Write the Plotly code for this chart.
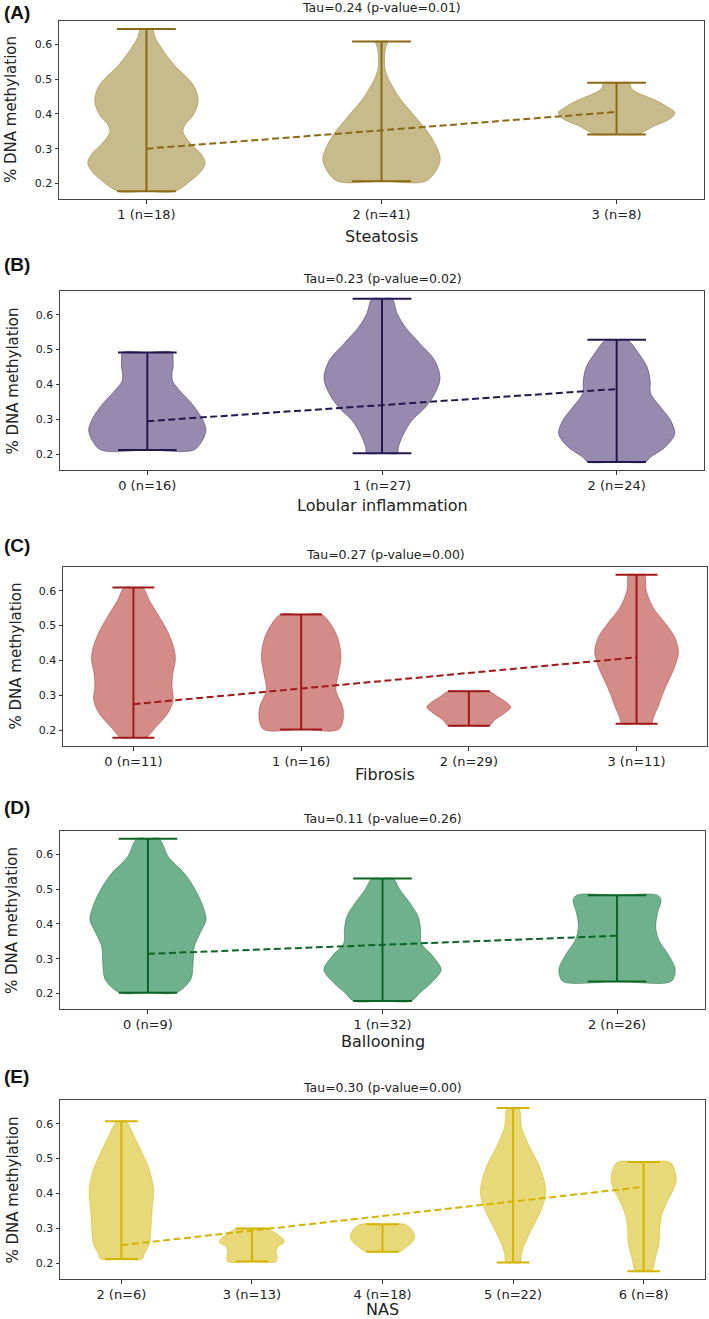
import plotly.graph_objects as go

# ---------------- data ----------------
# Panel A: Steatosis
steatosis_labels = ["1 (n=18)", "2 (n=41)", "3 (n=8)"]
steatosis_levels = [
    [0.177, 0.211, 0.235, 0.259, 0.285, 0.307, 0.330, 0.350, 0.370, 0.393, 0.420, 0.441, 0.470, 0.498, 0.536, 0.584, 0.620, 0.645],
    [0.206, 0.240, 0.270, 0.300, 0.345, 0.393, 0.441, 0.470, 0.500, 0.530, 0.560, 0.590, 0.609],
    [0.341, 0.350, 0.364, 0.383, 0.395, 0.405, 0.421, 0.435, 0.450, 0.462, 0.475, 0.490],
]
steatosis_density = [
    [0.48, 0.78, 0.93, 1.00, 0.93, 0.80, 0.68, 0.62, 0.66, 0.78, 0.86, 0.88, 0.84, 0.73, 0.50, 0.28, 0.15, 0.10],
    [0.75, 0.94, 1.00, 0.95, 0.80, 0.57, 0.33, 0.22, 0.12, 0.06, 0.05, 0.07, 0.10],
    [0.37, 0.48, 0.62, 0.88, 0.97, 0.99, 0.86, 0.72, 0.52, 0.35, 0.25, 0.22],
]
steatosis_trend = [0.300, 0.406]

# Panel B: Lobular inflammation
lobular_labels = ["0 (n=16)", "1 (n=27)", "2 (n=24)"]
lobular_levels = [
    [0.212, 0.240, 0.268, 0.285, 0.307, 0.320, 0.345, 0.370, 0.393, 0.410, 0.430, 0.450, 0.470, 0.492],
    [0.203, 0.221, 0.259, 0.297, 0.335, 0.374, 0.417, 0.469, 0.517, 0.564, 0.603, 0.646],
    [0.178, 0.192, 0.221, 0.259, 0.297, 0.335, 0.374, 0.412, 0.450, 0.488, 0.528],
]
lobular_density = [
    [0.79, 0.94, 1.00, 0.98, 0.92, 0.87, 0.76, 0.62, 0.50, 0.43, 0.42, 0.44, 0.44, 0.42],
    [0.26, 0.28, 0.37, 0.51, 0.74, 0.90, 0.99, 0.90, 0.65, 0.40, 0.26, 0.17],
    [0.49, 0.58, 0.83, 0.99, 0.92, 0.75, 0.58, 0.57, 0.52, 0.38, 0.18],
]
lobular_trend = [0.295, 0.387]

# Panel C: Fibrosis
fibrosis_labels = ["0 (n=11)", "1 (n=16)", "2 (n=29)", "3 (n=11)"]
fibrosis_levels = [
    [0.179, 0.210, 0.249, 0.287, 0.325, 0.363, 0.401, 0.429, 0.477, 0.525, 0.572, 0.609],
    [0.202, 0.229, 0.267, 0.315, 0.363, 0.410, 0.458, 0.496, 0.532],
    [0.213, 0.229, 0.249, 0.266, 0.277, 0.296, 0.312],
    [0.219, 0.239, 0.267, 0.306, 0.344, 0.382, 0.425, 0.467, 0.506, 0.553, 0.601, 0.646],
]
fibrosis_density = [
    [0.30, 0.54, 0.82, 0.95, 0.92, 0.94, 1.00, 0.98, 0.84, 0.62, 0.38, 0.22],
    [0.89, 1.00, 0.99, 0.83, 0.89, 0.95, 0.89, 0.75, 0.49],
    [0.49, 0.61, 0.85, 1.00, 0.93, 0.69, 0.48],
    [0.35, 0.41, 0.51, 0.63, 0.77, 0.91, 1.00, 0.91, 0.69, 0.39, 0.23, 0.19],
]
fibrosis_trend = [0.275, 0.409]

# Panel D: Ballooning
ballooning_labels = ["0 (n=9)", "1 (n=32)", "2 (n=26)"]
ballooning_levels = [
    [0.202, 0.240, 0.288, 0.335, 0.374, 0.412, 0.450, 0.498, 0.546, 0.593, 0.646],
    [0.178, 0.202, 0.230, 0.268, 0.307, 0.345, 0.383, 0.421, 0.460, 0.498, 0.531],
    [0.234, 0.259, 0.278, 0.316, 0.354, 0.393, 0.431, 0.469, 0.483],
]
ballooning_density = [
    [0.48, 0.73, 0.77, 0.79, 0.89, 0.99, 0.94, 0.81, 0.62, 0.35, 0.19],
    [0.49, 0.64, 0.83, 1.00, 0.86, 0.66, 0.65, 0.61, 0.47, 0.30, 0.18],
    [0.92, 0.99, 0.98, 0.86, 0.71, 0.66, 0.69, 0.75, 0.69],
]
ballooning_trend = [0.314, 0.366]

# Panel E: NAS
nas_labels = ["2 (n=6)", "3 (n=13)", "4 (n=18)", "5 (n=22)", "6 (n=8)"]
nas_levels = [
    [0.212, 0.229, 0.257, 0.305, 0.352, 0.390, 0.419, 0.467, 0.514, 0.562, 0.607],
    [0.205, 0.219, 0.233, 0.247, 0.262, 0.286, 0.300],
    [0.233, 0.246, 0.262, 0.276, 0.300, 0.312],
    [0.202, 0.229, 0.267, 0.314, 0.362, 0.400, 0.438, 0.486, 0.533, 0.590, 0.645],
    [0.177, 0.219, 0.257, 0.295, 0.333, 0.371, 0.409, 0.438, 0.467, 0.490],
]
nas_density = [
    [0.63, 0.71, 0.86, 0.91, 0.94, 0.98, 0.98, 0.86, 0.65, 0.40, 0.14],
    [0.74, 0.77, 0.74, 0.79, 1.00, 0.74, 0.43],
    [0.51, 0.72, 0.92, 0.99, 0.87, 0.66],
    [0.22, 0.26, 0.41, 0.66, 0.90, 1.00, 0.95, 0.77, 0.51, 0.26, 0.18],
    [0.24, 0.37, 0.47, 0.49, 0.54, 0.69, 0.90, 1.00, 0.95, 0.80],
]
nas_trend = [0.252, 0.419]

tau_titles = ["Tau=0.24 (p-value=0.01)", "Tau=0.23 (p-value=0.02)", "Tau=0.27 (p-value=0.00)",
              "Tau=0.11 (p-value=0.26)", "Tau=0.30 (p-value=0.00)"]
x_titles = ["Steatosis", "Lobular inflammation", "Fibrosis", "Ballooning", "NAS"]
panel_letters = ["(A)", "(B)", "(C)", "(D)", "(E)"]
y_ticks = [0.2, 0.3, 0.4, 0.5, 0.6]
y_tick_text = ["0.2", "0.3", "0.4", "0.5", "0.6"]

# ---------------- styling / layout ----------------
W, H = 709, 1319
FONT = "DejaVu Sans"

panels = [
    dict(labels=steatosis_labels, levels=steatosis_levels, dens=steatosis_density, trend=steatosis_trend,
         line="#8B6914", fill="rgb(200,187,139)", edge="rgba(139,105,20,0.55)",
         box=(59, 704, 21, 199), xr=(-0.372, 2.372), xgap=37, letter_y=13),
    dict(labels=lobular_labels, levels=lobular_levels, dens=lobular_density, trend=lobular_trend,
         line="#24174F", fill="rgb(152,138,175)", edge="rgba(36,23,79,0.55)",
         box=(60, 704, 291, 470), xr=(-0.372, 2.372), xgap=35, letter_y=264),
    dict(labels=fibrosis_labels, levels=fibrosis_levels, dens=fibrosis_density, trend=fibrosis_trend,
         line="#A01818", fill="rgb(211,140,136)", edge="rgba(160,24,24,0.5)",
         box=(63, 707, 567, 746), xr=(-0.42, 3.42), xgap=28, letter_y=545),
    dict(labels=ballooning_labels, levels=ballooning_levels, dens=ballooning_density, trend=ballooning_trend,
         line="#0B6623", fill="rgb(111,176,141)", edge="rgba(11,102,35,0.55)",
         box=(60, 705, 831, 1009), xr=(-0.375, 2.375), xgap=32, letter_y=807),
    dict(labels=nas_labels, levels=nas_levels, dens=nas_density, trend=nas_trend,
         line="#D4B400", fill="rgb(231,216,122)", edge="rgba(212,180,0,0.6)",
         box=(60, 705, 1100, 1279), xr=(-0.47, 4.47), xgap=30, letter_y=1076),
]

fig = go.Figure()
annotations = []
layout_axes = {}

for i, p in enumerate(panels, start=1):
    suffix = "" if i == 1 else str(i)
    xa, ya = "x" + suffix, "y" + suffix
    n = len(p["labels"])

    # violin bodies
    for j in range(n):
        lev = p["levels"][j]
        half = [0.25 * d for d in p["dens"][j]]
        xs = [j] + [j + h for h in half] + [j] + [j - h for h in reversed(half)] + [j]
        ys = [lev[0]] + lev + [lev[-1]] + list(reversed(lev)) + [lev[0]]
        fig.add_trace(go.Scatter(x=xs, y=ys, mode="lines", fill="toself",
                                 fillcolor=p["fill"], line=dict(color=p["edge"], width=0.8, shape="spline", smoothing=0.9),
                                 hoverinfo="skip", xaxis=xa, yaxis=ya))

    # bars + caps
    lx, ly = [], []
    for j in range(n):
        lo, hi = p["levels"][j][0], p["levels"][j][-1]
        lx += [j, j, None, j - 0.125, j + 0.125, None, j - 0.125, j + 0.125, None]
        ly += [lo, hi, None, lo, lo, None, hi, hi, None]
    fig.add_trace(go.Scatter(x=lx, y=ly, mode="lines", line=dict(color=p["line"], width=2),
                             hoverinfo="skip", xaxis=xa, yaxis=ya))

    # trend line
    fig.add_trace(go.Scatter(x=[0, n - 1], y=p["trend"], mode="lines",
                             line=dict(color=p["line"], width=2, dash="7px,3.5px"),
                             hoverinfo="skip", xaxis=xa, yaxis=ya))

    l, r, t, b = p["box"]
    layout_axes["xaxis" + suffix] = dict(
        domain=[l / W, r / W], anchor=ya, range=list(p["xr"]),
        tickmode="array", tickvals=list(range(n)), ticktext=p["labels"],
        tickfont=dict(family=FONT, size=13, color="#222"),
        ticks="outside", ticklen=3.5, tickwidth=1, tickcolor="#333",
        showline=True, mirror=True, linecolor="#444", linewidth=1,
        showgrid=False, zeroline=False, automargin=False, fixedrange=True)
    layout_axes["yaxis" + suffix] = dict(
        domain=[1 - b / H, 1 - t / H], anchor=xa, range=[0.155, 0.668],
        tickmode="array", tickvals=y_ticks, ticktext=y_tick_text,
        tickfont=dict(family=FONT, size=11, color="#222"),
        ticks="outside", ticklen=3.5, tickwidth=1, tickcolor="#333",
        showline=True, mirror=True, linecolor="#444", linewidth=1,
        showgrid=False, zeroline=False, automargin=False, fixedrange=True)

    annotations.append(dict(text=tau_titles[i - 1], xref=xa + " domain", x=0.5, yref=ya + " domain", y=1,
                            yanchor="middle", yshift=13, showarrow=False,
                            font=dict(family=FONT, size=12.5, color="#222")))
    annotations.append(dict(text=x_titles[i - 1], xref=xa + " domain", x=0.5, yref=ya + " domain", y=0,
                            yanchor="middle", yshift=-p["xgap"], showarrow=False,
                            font=dict(family=FONT, size=16, color="#222")))
    annotations.append(dict(text="% DNA methylation", xref=xa + " domain", x=0, xanchor="center", xshift=-48,
                            yref=ya + " domain", y=0.5, yanchor="middle", textangle=-90, showarrow=False,
                            font=dict(family=FONT, size=15, color="#222")))
    annotations.append(dict(text="<b>" + panel_letters[i - 1] + "</b>", xref="paper", x=2 / W, xanchor="left",
                            yref="paper", y=1 - p["letter_y"] / H, yanchor="middle", showarrow=False,
                            font=dict(family="Liberation Sans", size=19, color="#111")))

fig.update_layout(width=W, height=H, margin=dict(l=0, r=0, t=0, b=0),
                  paper_bgcolor="white", plot_bgcolor="white", showlegend=False,
                  annotations=annotations, **layout_axes)

fig.write_html("out.html", config={"displayModeBar": False, "staticPlot": True},
               post_script="document.body.style.margin='0';document.body.style.overflow='hidden';")
